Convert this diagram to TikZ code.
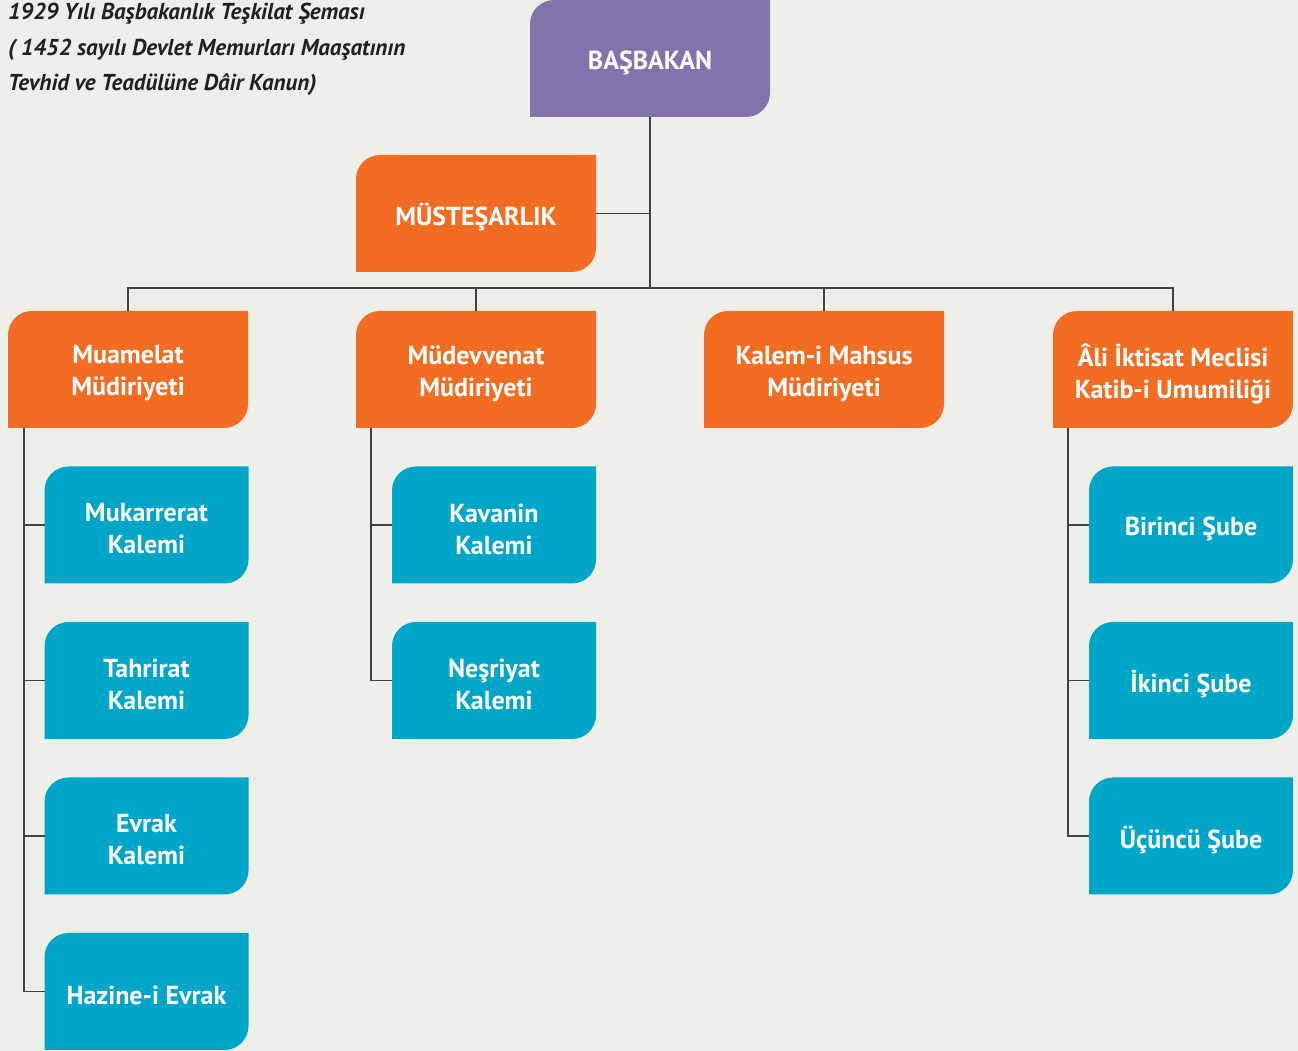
\documentclass[tikz,border=0pt]{standalone}
\usepackage{fontspec}
\setmainfont{PT Sans}
\usetikzlibrary{backgrounds}
\definecolor{bgc}{HTML}{EFEFEA}
\definecolor{purp}{HTML}{8373AD}
\definecolor{orng}{HTML}{F26C22}
\definecolor{teal}{HTML}{00A6C7}
\definecolor{ink}{HTML}{231F20}
\tikzset{
  boxtext/.style={shape=rectangle, inner sep=0pt, outer sep=0pt, minimum height=117pt, text=white, align=center, font=\bfseries\fontsize{26}{32}\selectfont},
  link/.style={draw=ink!85, line width=1.3pt},
}
\newcommand\obox[6]{%
  \node[boxtext, minimum width=#4pt] (#1) at (#2,#3-4) {#6};
  \begin{pgfonlayer}{background}
  \fill[#5] ([yshift=4pt]#1.south west) -- ([yshift=-20pt]#1.north west) arc[start angle=180,end angle=90,radius=24pt] -- ([yshift=4pt]#1.north east) -- ([yshift=28pt]#1.south east) arc[start angle=0,end angle=-90,radius=24pt] -- cycle;
  \end{pgfonlayer}}
\begin{document}
\begin{tikzpicture}[x=1pt,y=1pt]
\begin{pgfonlayer}{background}
\fill[bgc] (0,0) rectangle (1298,1051);
\end{pgfonlayer}
\useasboundingbox (0,0) rectangle (1298,1051);
\node[anchor=north west, inner sep=0pt, align=left, text=ink, font=\bfseries\itshape\fontsize{23}{35.5}\selectfont] (title) at (8,1048) {1929 Yılı Başbakanlık Teşkilat Şeması\\( 1452 sayılı Devlet Memurları Maaşatının\\Tevhid ve Teadülüne Dâir Kanun)};
% top
\obox{bas}{650}{992.5}{240}{purp}{BAŞBAKAN}
\obox{must}{476}{837.5}{240}{orng}{MÜSTEŞARLIK}
% row 2
\obox{mua}{128}{681.5}{240}{orng}{Muamelat\\Müdiriyeti}
\obox{mud}{476}{681.5}{240}{orng}{Müdevvenat\\Müdiriyeti}
\obox{kal}{824}{681.5}{240}{orng}{Kalem-i Mahsus\\Müdiriyeti}
\obox{ali}{1173}{681.5}{240}{orng}{Âli İktisat Meclisi\\Katib-i Umumiliği}
% left column
\obox{muk}{146.5}{526}{204}{teal}{Mukarrerat\\Kalemi}
\obox{tah}{146.5}{370.5}{204}{teal}{Tahrirat\\Kalemi}
\obox{evr}{146.5}{215}{204}{teal}{Evrak\\Kalemi}
\obox{haz}{146.5}{59.5}{204}{teal}{Hazine-i Evrak}
% middle column
\obox{kav}{494}{526}{204}{teal}{Kavanin\\Kalemi}
\obox{nes}{494}{370.5}{204}{teal}{Neşriyat\\Kalemi}
% right column
\obox{bir}{1191}{526}{204}{teal}{Birinci Şube}
\obox{iki}{1191}{370.5}{204}{teal}{İkinci Şube}
\obox{ucu}{1191}{215}{204}{teal}{Üçüncü Şube}
% connectors
\coordinate (hub) at (650,763);
\coordinate (bastop) at ([yshift=4pt]bas.south);
\draw[link] (bastop) -- (hub);
\draw[link] ([yshift=4pt]must.east) -- ([yshift=4pt]must.east -| bas.south);
\draw[link] ([yshift=4pt]mua.north) |- (hub) -| ([yshift=4pt]ali.north);
\draw[link] ([yshift=4pt]mud.north) -- (mud.north |- hub);
\draw[link] ([yshift=4pt]kal.north) -- (kal.north |- hub);
\coordinate (lt) at (24,623);
\draw[link] (lt) |- ([yshift=4pt]haz.west);
\draw[link] ([yshift=4pt]lt |- muk.west) -- ([yshift=4pt]muk.west);
\draw[link] ([yshift=4pt]lt |- tah.west) -- ([yshift=4pt]tah.west);
\draw[link] ([yshift=4pt]lt |- evr.west) -- ([yshift=4pt]evr.west);
\coordinate (mt) at (371,623);
\draw[link] (mt) |- ([yshift=4pt]nes.west);
\draw[link] ([yshift=4pt]mt |- kav.west) -- ([yshift=4pt]kav.west);
\coordinate (rt) at (1068,623);
\draw[link] (rt) |- ([yshift=4pt]ucu.west);
\draw[link] ([yshift=4pt]rt |- bir.west) -- ([yshift=4pt]bir.west);
\draw[link] ([yshift=4pt]rt |- iki.west) -- ([yshift=4pt]iki.west);
\end{tikzpicture}
\end{document}
